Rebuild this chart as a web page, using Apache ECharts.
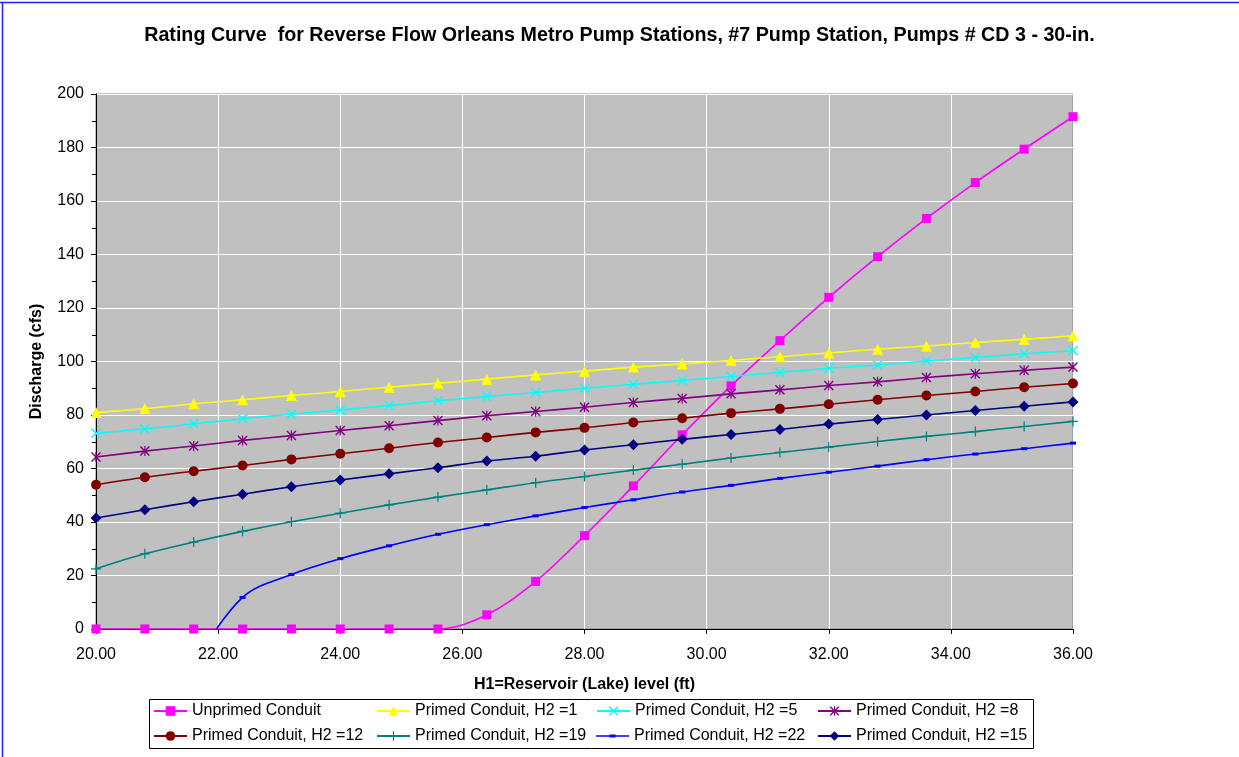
<!DOCTYPE html>
<html>
<head>
<meta charset="utf-8">
<script src="https://cdn.jsdelivr.net/npm/echarts@6/dist/echarts.min.js"></script>
<style>
html,body{margin:0;padding:0;background:#fff;}
#chart{width:1239px;height:757px;}
</style>
</head>
<body>
<div id="chart"></div>
<script>
// ---- data ----
const xValues = [20.0, 20.8, 21.6, 22.4, 23.2, 24.0, 24.8, 25.6, 26.4, 27.2, 28.0, 28.8, 29.6, 30.4, 31.2, 32.0, 32.8, 33.6, 34.4, 35.2, 36.0];
const unprimed = [0, 0, 0, 0, 0, 0, 0, 0, 5.3, 17.8, 34.9, 53.5, 72.6, 90.9, 107.8, 124.0, 139.2, 153.5, 166.9, 179.4, 191.5];
const h2_1  = [80.9, 82.4, 84.2, 85.7, 87.3, 88.8, 90.4, 91.9, 93.4, 95.0, 96.4, 97.9, 99.1, 100.4, 101.8, 103.2, 104.6, 105.8, 107.1, 108.3, 109.6];
const h2_5  = [73.2, 74.8, 76.7, 78.6, 80.3, 81.9, 83.5, 85.3, 86.9, 88.4, 90.0, 91.5, 92.9, 94.4, 95.9, 97.5, 98.7, 100.2, 101.5, 102.9, 104.0];
const h2_8  = [64.3, 66.5, 68.4, 70.5, 72.3, 74.2, 76.0, 77.9, 79.7, 81.3, 82.9, 84.7, 86.2, 87.9, 89.4, 91.0, 92.4, 94.0, 95.4, 96.7, 97.9];
const h2_12 = [53.9, 56.7, 59.0, 61.1, 63.4, 65.5, 67.6, 69.7, 71.6, 73.5, 75.2, 77.2, 78.8, 80.7, 82.3, 84.0, 85.7, 87.3, 88.8, 90.4, 91.8];
const h2_19 = [22.5, 28.1, 32.5, 36.5, 40.1, 43.3, 46.4, 49.3, 52.0, 54.7, 57.0, 59.4, 61.6, 63.9, 66.0, 68.0, 70.1, 72.0, 73.8, 75.7, 77.6];
const h2_22 = [null, null, -13, 11.8, 20.4, 26.3, 31.1, 35.4, 39.0, 42.3, 45.4, 48.3, 51.2, 53.7, 56.3, 58.6, 60.9, 63.3, 65.4, 67.4, 69.5];
const h2_15 = [41.5, 44.6, 47.6, 50.4, 53.2, 55.7, 58.0, 60.3, 62.8, 64.6, 66.9, 68.9, 70.9, 72.7, 74.6, 76.6, 78.3, 80.0, 81.7, 83.3, 84.9];
const seriesNames = ['Unprimed Conduit', 'Primed Conduit, H2 =1', 'Primed Conduit, H2 =5', 'Primed Conduit, H2 =8',
                     'Primed Conduit, H2 =12', 'Primed Conduit, H2 =19', 'Primed Conduit, H2 =22', 'Primed Conduit, H2 =15'];
const titleText = 'Rating Curve  for Reverse Flow Orleans Metro Pump Stations, #7 Pump Station, Pumps # CD 3 - 30-in.';
const xAxisName = 'H1=Reservoir (Lake) level (ft)';
const yAxisName = 'Discharge (cfs)';

// ---- styling ----
const FONT = '"Liberation Sans", Arial, sans-serif';
const pX = 'path://M0,1 L1,0 L10,9 L9,10 Z M9,0 L10,1 L1,10 L0,9 Z';
const pStar = 'path://M0,1 L1,0 L10,9 L9,10 Z M9,0 L10,1 L1,10 L0,9 Z M4.4,0 L5.6,0 L5.6,10 L4.4,10 Z';
const pPlus = 'path://M4.4,0 L5.6,0 L5.6,4.4 L10,4.4 L10,5.6 L5.6,5.6 L5.6,10 L4.4,10 L4.4,5.6 L0,5.6 L0,4.4 L4.4,4.4 Z';
const pDash = 'path://M0,0 L2,0 L2,1 L0,1 Z';
const pDashLegend = 'path://M0,1.2 L33,1.2 L33,2.8 L0,2.8 Z M13.5,0.5 L19.5,0.5 L19.5,3.5 L13.5,3.5 Z';
const styles = [
  {color: '#FF00FF', symbol: 'rect', size: 9},
  {color: '#FFFF00', symbol: 'triangle', size: 11},
  {color: '#00FFFF', symbol: pX, size: 10},
  {color: '#800080', symbol: pStar, size: 10},
  {color: '#800000', symbol: 'circle', size: 10},
  {color: '#008080', symbol: pPlus, size: 10},
  {color: '#0000FF', symbol: pDash, size: 6},
  {color: '#000080', symbol: 'diamond', size: 11}
];
const dataSets = [unprimed, h2_1, h2_5, h2_8, h2_12, h2_19, h2_22, h2_15];

const series = dataSets.map((vals, i) => ({
  name: seriesNames[i],
  type: 'line',
  smooth: 0.35,
  clip: true,
  connectNulls: false,
  symbol: styles[i].symbol,
  symbolSize: styles[i].size,
  symbolKeepAspect: true,
  showSymbol: true,
  lineStyle: {color: styles[i].color, width: 1.6},
  itemStyle: {color: styles[i].color, borderWidth: 0},
  emphasis: {disabled: true},
  data: xValues.map((x, k) => [x, vals[k]]).filter(p => p[1] !== null),
  z: 2 + i
}));

const colLefts = [153, 376, 596, 817];
const rowTops = [703, 728];
const legends = seriesNames.map((n, i) => ({
  data: [i === 6 ? {name: n, icon: pDashLegend} : n],
  left: colLefts[i % 4],
  top: rowTops[Math.floor(i / 4)],
  padding: 0,
  itemWidth: 33,
  itemHeight: 12,
  itemGap: 0,
  symbolKeepAspect: true,
  selectedMode: false,
  textStyle: {color: '#000', fontSize: 16, fontFamily: FONT}
}));

const chart = echarts.init(document.getElementById('chart'), null, {renderer: 'canvas'});
chart.setOption({
  animation: false,
  backgroundColor: '#fff',
  title: {
    text: titleText,
    left: 'center',
    top: 26,
    padding: 0,
    textStyle: {fontSize: 19.7, fontWeight: 'bold', color: '#000', fontFamily: FONT}
  },
  legend: legends,
  grid: {
    left: 96, right: 166, top: 94, bottom: 128,
    show: true, backgroundColor: '#C0C0C0', borderColor: '#808080', borderWidth: 1
  },
  xAxis: {
    type: 'value', min: 20, max: 36, interval: 2,
    name: xAxisName, nameLocation: 'middle', nameGap: 48,
    nameTextStyle: {fontSize: 16, fontWeight: 'bold', color: '#000', fontFamily: FONT},
    axisLine: {lineStyle: {color: '#000', width: 1}},
    axisTick: {show: true, length: 5, lineStyle: {color: '#000'}},
    axisLabel: {margin: 18, fontSize: 16, color: '#000', fontFamily: FONT, formatter: v => v.toFixed(2)},
    splitLine: {show: true, lineStyle: {color: '#FFFFFF', width: 1}}
  },
  yAxis: {
    type: 'value', min: 0, max: 200, interval: 20,
    name: yAxisName, nameLocation: 'middle', nameGap: 51,
    nameTextStyle: {fontSize: 16, fontWeight: 'bold', color: '#000', fontFamily: FONT},
    axisLine: {show: true, lineStyle: {color: '#000', width: 1}},
    axisTick: {show: true, length: 5, lineStyle: {color: '#000'}},
    minorTick: {show: true, splitNumber: 2, length: 4, lineStyle: {color: '#000'}},
    axisLabel: {margin: 12, fontSize: 16, color: '#000', fontFamily: FONT},
    splitLine: {show: true, lineStyle: {color: '#FFFFFF', width: 1}}
  },
  graphic: [
    {type: 'line', shape: {x1: 0, y1: 2.5, x2: 1239, y2: 2.5}, style: {stroke: '#2020FF', lineWidth: 1.5}, silent: true},
    {type: 'line', shape: {x1: 2.5, y1: 2, x2: 2.5, y2: 757}, style: {stroke: '#2020FF', lineWidth: 1.5}, silent: true},
    {type: 'rect', shape: {x: 149.5, y: 699.5, width: 884, height: 49}, style: {fill: 'none', stroke: '#000', lineWidth: 1}, silent: true, z: -1}
  ],
  series: series
});
</script>
</body>
</html>
